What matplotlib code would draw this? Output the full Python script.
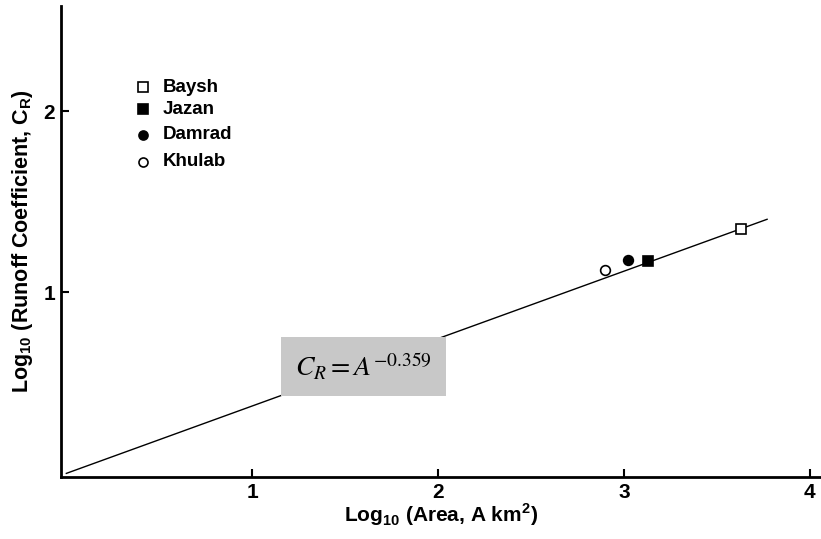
import matplotlib
matplotlib.use("Agg")
import matplotlib.pyplot as plt
import numpy as np

plt.rcParams['font.family'] = ['Liberation Sans', 'DejaVu Sans']
plt.rcParams['mathtext.fontset'] = 'custom'
plt.rcParams['mathtext.rm'] = 'Liberation Sans:bold'
plt.rcParams['mathtext.bf'] = 'Liberation Sans:bold'

# station data (log10 area, log10 runoff coefficient)
stations = ['Baysh', 'Jazan', 'Damrad', 'Khulab']
log_area = [3.63, 3.13, 3.02, 2.90]
log_cr = [1.35, 1.17, 1.18, 1.12]
markers = ['s', 's', 'o', 'o']
filled = [False, True, True, False]

# fitted line
fit_x = [0.0, 3.77]
fit_slope = 0.372

fig = plt.figure(figsize=(8.21, 5.39), dpi=100)
ax = fig.add_axes([0.074, 0.115, 0.926, 0.874])

fx = np.array(fit_x)
ax.plot(fx, fit_slope * fx, color='black', lw=1.0, zorder=1)

for name, x, y, m, f in zip(stations, log_area, log_cr, markers, filled):
    ax.plot(x, y, linestyle='none', marker=m, markersize=7,
            markerfacecolor='black' if f else 'white',
            markeredgecolor='black', markeredgewidth=1.2, zorder=3)

# legend drawn by hand to mimic the original layout
leg_y = [2.13, 2.01, 1.87, 1.72]
for name, m, f, ly in zip(stations, markers, filled, leg_y):
    ax.plot(0.41, ly, linestyle='none', marker=m, markersize=6.5,
            markerfacecolor='black' if f else 'white',
            markeredgecolor='black', markeredgewidth=1.2, clip_on=False)
    ax.text(0.52, ly, name, fontsize=13.5, fontweight='bold', va='center',
            ha='left')

ax.text(1.6, 0.59, r'$C_R = A^{-0.359}$', fontsize=20, ha='center', va='center',
        math_fontfamily='stix', zorder=4,
        bbox=dict(boxstyle='square,pad=0.5', facecolor='#c8c8c8', edgecolor='none'))

ax.set_xlim(-0.03, 4.06)
ax.set_ylim(-0.02, 2.58)
ax.set_xticks([1, 2, 3, 4])
ax.set_yticks([1, 2])
ax.tick_params(direction='in', length=6, width=1.5, labelsize=15, pad=4)
for lbl in ax.get_xticklabels() + ax.get_yticklabels():
    lbl.set_fontweight('bold')

for s in ['top', 'right']:
    ax.spines[s].set_visible(False)
for s in ['left', 'bottom']:
    ax.spines[s].set_linewidth(2)

ax.set_xlabel(r'Log$_{\mathbf{10}}$ (Area, A km$^{\mathbf{2}}$)', fontsize=15,
              fontweight='bold', labelpad=0)
ax.set_ylabel(r'Log$_{\mathbf{10}}$ (Runoff Coefficient, C$_{\mathbf{R}}$)', fontsize=15.5,
              fontweight='bold', labelpad=6)

fig.savefig('out.png', dpi=100)
